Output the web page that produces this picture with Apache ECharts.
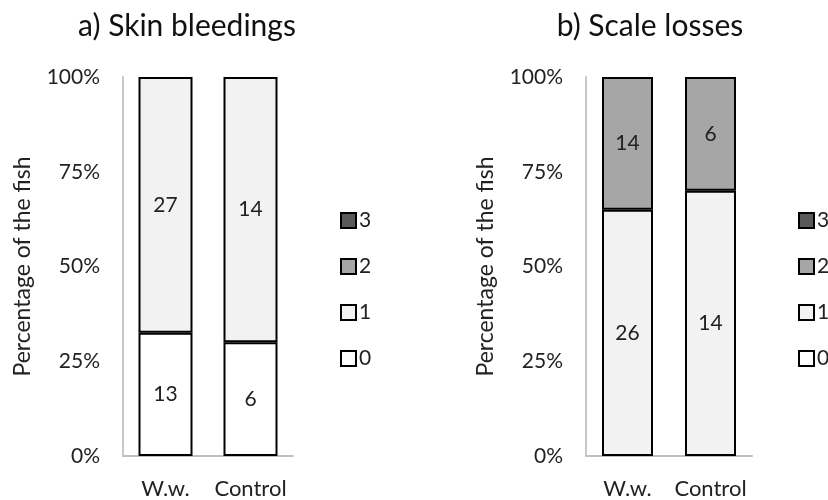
<!DOCTYPE html>
<html>
<head>
<meta charset="utf-8">
<script src="https://cdn.jsdelivr.net/npm/echarts@6/dist/echarts.min.js"></script>
<style>html,body{margin:0;padding:0;background:#fff;}#c{width:828px;height:500px;}</style>
</head>
<body>
<div id="c"></div>
<script>
// Data (counts of fish per score)
var categories = ['W.w.', 'Control'];
var levels = ['0', '1', '2', '3'];
var skinCounts = { '0': [13, 6], '1': [27, 14], '2': [0, 0], '3': [0, 0] };
var scaleCounts = { '0': [0, 0], '1': [26, 14], '2': [14, 6], '3': [0, 0] };
var yTicks = [0, 25, 50, 75, 100];
var titles = ['a) Skin bleedings', 'b) Scale losses'];
var levelColors = { '0': '#ffffff', '1': '#f2f2f2', '2': '#a6a6a6', '3': '#595959' };

var FONT = 'Lato';

function totals(counts) {
  return categories.map(function (c, i) {
    var s = 0;
    levels.forEach(function (l) { s += counts[l][i]; });
    return s;
  });
}

function makeSeries(counts, idx, barWidth) {
  var tot = totals(counts);
  return levels.map(function (l) {
    return {
      name: l,
      type: 'bar',
      stack: 'chart' + idx,
      xAxisIndex: idx,
      yAxisIndex: idx,
      barWidth: barWidth,
      data: counts[l].map(function (v, i) {
        return { value: v === 0 ? null : v / tot[i] * 100, count: v };
      }),
      itemStyle: { color: levelColors[l], borderColor: '#000', borderWidth: 2 },
      label: {
        show: true,
        position: 'inside',
        fontFamily: FONT,
        fontSize: 21,
        color: '#222',
        formatter: function (p) { return p.data.count ? String(p.data.count) : ''; }
      },
      emphasis: { disabled: true }
    };
  });
}

var grids = [
  { left: 123, right: 535, top: 77, bottom: 43 },
  { left: 586, right: 76, top: 77, bottom: 44 }
];

function xAx(i) {
  return {
    type: 'category', gridIndex: i, data: categories,
    axisTick: { show: false },
    axisLine: { lineStyle: { color: '#c0c0c0', width: 2 } },
    axisLabel: { interval: 0, hideOverlap: false, fontFamily: FONT, fontSize: 22, color: '#222', margin: 22 }
  };
}
function yAx(i) {
  return {
    type: 'value', gridIndex: i, min: yTicks[0], max: yTicks[yTicks.length - 1],
    interval: yTicks[1] - yTicks[0],
    name: 'Percentage of the fish', nameLocation: 'middle', nameGap: 89,
    nameTextStyle: { fontFamily: FONT, fontSize: 23, color: '#222' },
    axisLine: { show: true, lineStyle: { color: '#c8c8c8', width: 2 } },
    axisTick: { show: false },
    splitLine: { show: false },
    axisLabel: { fontFamily: FONT, fontSize: 21, color: '#222', margin: 23, formatter: '{value}%' }
  };
}

function legend(left) {
  return {
    orient: 'vertical', left: left, top: 205,
    data: ['3', '2', '1', '0'],
    icon: 'rect', itemWidth: 15, itemHeight: 15, itemGap: 25,
    itemStyle: { borderColor: '#000', borderWidth: 2 },
    textStyle: { fontFamily: FONT, fontSize: 21, color: '#222', lineHeight: 20, padding: [0, 0, 0, -2] },
    selectedMode: false
  };
}

var chart = echarts.init(document.getElementById('c'), null, { renderer: 'canvas' });
chart.setOption({
  animation: false,
  backgroundColor: '#fff',
  title: [
    { text: titles[0], left: 182, top: 6, textAlign: 'center', textStyle: { fontFamily: FONT, fontSize: 30, fontWeight: 'normal', color: '#111' } },
    { text: titles[1], left: 645, top: 6, textAlign: 'center', textStyle: { fontFamily: FONT, fontSize: 30, fontWeight: 'normal', color: '#111' } }
  ],
  legend: [legend(335), legend(793)],
  grid: grids,
  xAxis: [xAx(0), xAx(1)],
  yAxis: [yAx(0), yAx(1)],
  series: makeSeries(skinCounts, 0, 54).concat(makeSeries(scaleCounts, 1, 51))
});
</script>
</body>
</html>
